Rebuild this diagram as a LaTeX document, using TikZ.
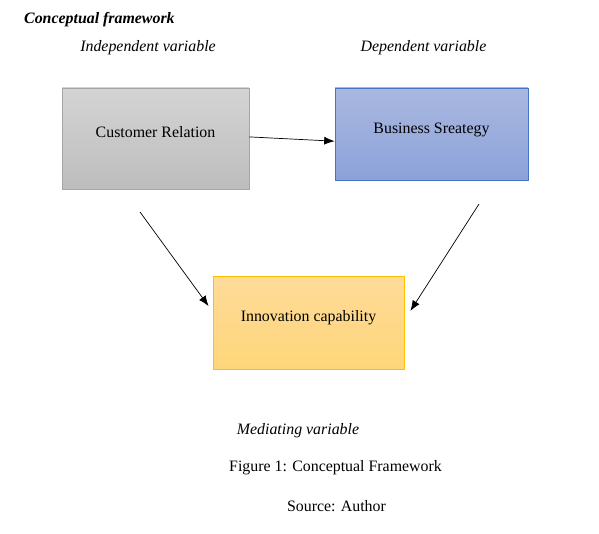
\documentclass[tikz,border=0pt]{standalone}
\usepackage{fontspec}
\setmainfont{Liberation Serif}
\usetikzlibrary{arrows.meta}
\definecolor{crtop}{HTML}{D4D4D4}
\definecolor{crbot}{HTML}{BDBDBD}
\definecolor{crline}{HTML}{A5A5A5}
\definecolor{bstop}{HTML}{AAB8E0}
\definecolor{bsbot}{HTML}{8BA2D9}
\definecolor{bsline}{HTML}{4472C4}
\definecolor{ictop}{HTML}{FEDB99}
\definecolor{icbot}{HTML}{FED679}
\definecolor{icline}{HTML}{FFC000}
\begin{document}
\begin{tikzpicture}[
  every node/.style={font=\fontsize{11.3}{13.5}\selectfont, align=center},
  varbox/.style={rectangle, line width=0.6pt, text height=8pt, text depth=9pt},
  vlabel/.style={font=\fontsize{11.3}{13.5}\selectfont\itshape},
  seta/.style={-{Latex[length=2.6mm,width=2mm]}, line width=0.5pt}
]
\useasboundingbox (0,0) rectangle (14.975,13.325);
% Titulo e rotulos das variaveis
\node[font=\fontsize{11.3}{13.5}\selectfont\bfseries\itshape, anchor=west] (titulo) at (0.48, 12.83) {Conceptual framework};
\node[vlabel] (indep) at (3.7, 12.125) {Independent variable};
\node[vlabel] (dep) at (10.5875, 12.125) {Dependent variable};
\node[vlabel] (med) at (7.45, 2.57) {Mediating variable};

% Caixas
\node[varbox, draw=crline, top color=crtop, bottom color=crbot, minimum width=4.675cm, minimum height=2.525cm] (cr) at (3.8875, 9.8625) {Customer Relation};
\node[varbox, draw=bsline, top color=bstop, bottom color=bsbot, minimum width=4.825cm, minimum height=2.3cm] (bs) at (10.7875, 9.975) {Business Sreategy};
\node[varbox, draw=icline, top color=ictop, bottom color=icbot, minimum width=4.775cm, minimum height=2.325cm] (ic) at (7.7125, 5.2625) {Innovation capability};

% Setas
\coordinate (s1) at (3.5, 8.025);
\coordinate (e1) at ([shift={(-0.1,0.41)}]ic.west);
\coordinate (s2) at (11.975, 8.225);
\coordinate (e2) at ([shift={(0.15,0.29)}]ic.east);
\draw[seta] ([yshift=0.04cm]cr.east) -- ([yshift=-0.18cm]bs.west);
\draw[seta] (s1) -- (e1);
\draw[seta] (s2) -- (e2);

% Legenda
\node (fig) at (8.3875, 1.62) {Figure 1: Conceptual Framework};
\node (fonte) at (8.4125, 0.67) {Source: Author};
\end{tikzpicture}
\end{document}
